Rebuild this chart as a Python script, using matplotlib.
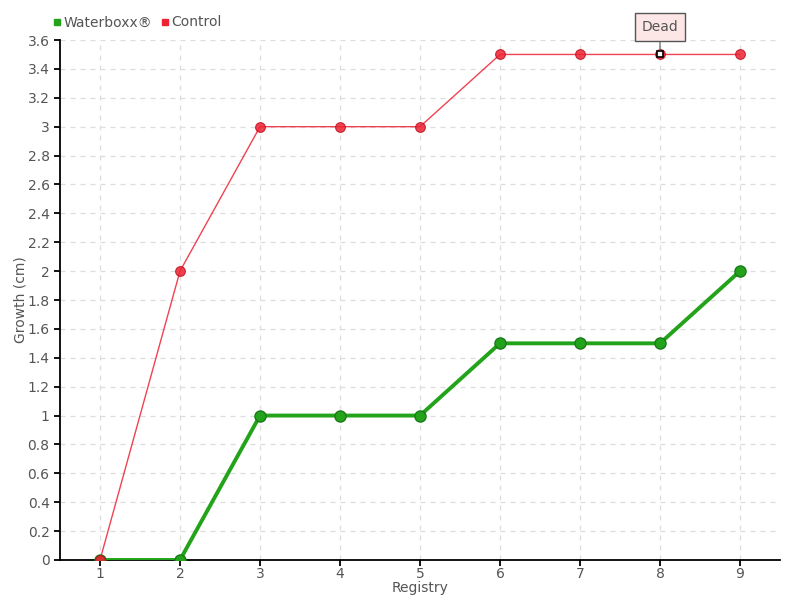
import matplotlib.pyplot as plt
from matplotlib.ticker import FuncFormatter, MultipleLocator

registry = [1, 2, 3, 4, 5, 6, 7, 8, 9]
waterboxx = [0, 0, 1, 1, 1, 1.5, 1.5, 1.5, 2]
control = [0, 2, 3, 3, 3, 3.5, 3.5, 3.5, 3.5]
dead_x = 8
dead_y = 3.5

text_color = "#555555"
green = "#22a31a"
red = "#ee2233"

plt.rcParams["font.family"] = ["DejaVu Sans"]

fig = plt.figure(figsize=(8, 6), dpi=100)
ax = fig.add_axes([0.075, 0.0667, 0.9, 0.8666])

ax.plot(registry, waterboxx, color=green, linewidth=2.8, marker="o", markersize=8,
        markerfacecolor=green, markeredgecolor="#1a7a1a", markeredgewidth=1, zorder=3,
        label="Waterboxx®")
ax.plot(registry, control, color=red, linewidth=1, alpha=0.85, marker="o", markersize=7,
        markerfacecolor=red, markeredgecolor="#c01020", markeredgewidth=0.8, zorder=4,
        label="Control")

# dead marker + callout
ax.plot([dead_x], [dead_y], marker="s", markersize=5, markerfacecolor="white",
        markeredgecolor="black", markeredgewidth=1.2, zorder=6, linestyle="none")
ax.annotate("Dead", xy=(dead_x, dead_y), xytext=(0, 15), textcoords="offset points",
            ha="center", va="bottom", fontsize=10, color=text_color,
            bbox=dict(boxstyle="square,pad=0.5", facecolor="#fde6e6", edgecolor="#555555", linewidth=1),
            arrowprops=dict(arrowstyle="-", color="#555555", linewidth=0.8, shrinkA=0, shrinkB=3),
            zorder=7)

ax.set_xlim(0.5, 9.5)
ax.set_ylim(0, 3.6)
ax.set_xticks(registry)
ax.yaxis.set_major_locator(MultipleLocator(0.2))
ax.yaxis.set_major_formatter(FuncFormatter(lambda v, p: f"{round(v, 1):g}"))

ax.grid(True, color="#dddddd", linestyle=(0, (4, 4)), linewidth=0.9)
ax.set_axisbelow(True)
for side in ["top", "right"]:
    ax.spines[side].set_visible(False)
for side in ["left", "bottom"]:
    ax.spines[side].set_color("black")
    ax.spines[side].set_linewidth(1.3)

ax.tick_params(axis="both", colors="black", labelcolor=text_color, labelsize=10, length=4, width=1.3)
ax.tick_params(axis="x", pad=1)

ax.set_xlabel("Registry", color=text_color, fontsize=10, labelpad=0)
ax.set_ylabel("Growth (cm)", color=text_color, fontsize=10)
ax.yaxis.set_label_coords(-0.045, 0.5)

fig.legend(loc="upper left", bbox_to_anchor=(0.05, 0.995), ncol=2, frameon=False,
           handles=[plt.Line2D([], [], marker="s", linestyle="none", color=green, markersize=5),
                    plt.Line2D([], [], marker="s", linestyle="none", color=red, markersize=5)],
           labels=["Waterboxx®", "Control"], handlelength=0.6, handletextpad=0.2,
           columnspacing=0.6, fontsize=10, labelcolor=text_color)

fig.savefig("out.png", dpi=100)
